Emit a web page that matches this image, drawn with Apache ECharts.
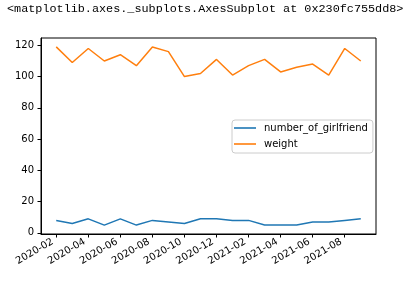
<!DOCTYPE html>
<html>
<head>
<meta charset="utf-8">
<script src="https://cdn.jsdelivr.net/npm/echarts@6/dist/echarts.min.js"></script>
<style>html,body{margin:0;padding:0;background:#fff;}#c{width:414px;height:288px;}</style>
</head>
<body>
<div id="c"></div>
<script>
const months = ['2020-02','2020-03','2020-04','2020-05','2020-06','2020-07','2020-08','2020-09','2020-10','2020-11',
  '2020-12','2021-01','2021-02','2021-03','2021-04','2021-05','2021-06','2021-07','2021-08','2021-09'];
const girlfriends = [8,6,9,5,9,5,8,7,6,9,9,8,8,5,5,5,7,7,8,9];
const weight = [119,109,118,110,114,107,119,116,100,102,111,101,107,111,103,106,108,101,118,110];
const xTickLabels = ['2020-02','2020-04','2020-06','2020-08','2020-10','2020-12','2021-02','2021-04','2021-06','2021-08'];
const yTicks = [0,20,40,60,80,100,120];
const titleText = '<matplotlib.axes._subplots.AxesSubplot at 0x230fc755dd8>';

const xTickIdx = xTickLabels.map(l => months.indexOf(l));
const font = 'DejaVu Sans';
const chart = echarts.init(document.getElementById('c'), null, {renderer: 'canvas'});
chart.setOption({
  animation: false,
  backgroundColor: '#fff',
  title: {
    text: titleText, left: 7, top: 3, padding: 0,
    textStyle: {fontFamily: 'Liberation Mono', fontSize: 11.8, fontWeight: 'normal', color: '#000'}
  },
  grid: {left: 41, right: 38, top: 38, bottom: 54, show: true, borderColor: '#000', borderWidth: 1, backgroundColor: 'transparent'},
  legend: {
    orient: 'vertical', left: 232, top: 120,
    padding: [1, 5, 2, 2], itemGap: 2, itemWidth: 22, itemHeight: 1.6,
    icon: 'rect',
    backgroundColor: '#fff', borderColor: '#cccccc', borderWidth: 1, borderRadius: 3,
    textStyle: {fontFamily: font, fontSize: 10, color: '#000', lineHeight: 14, padding: [0,0,0,3]},
    data: ['number_of_girlfriend', 'weight']
  },
  xAxis: {
    type: 'value', min: -0.95, max: 19.95,
    splitLine: {show: false},
    axisLine: {show: true, onZero: false, lineStyle: {color: '#000', width: 1}},
    axisTick: {show: true, length: 3.5, lineStyle: {color: '#000'}, customValues: xTickIdx},
    axisLabel: {
      customValues: xTickIdx, rotate: 30, margin: 5, padding: [0, 4, 0, 0],
      fontFamily: font, fontSize: 10, color: '#000',
      formatter: v => months[Math.round(v)]
    }
  },
  yAxis: {
    type: 'value', min: -0.7, max: 124.7,
    splitLine: {show: false},
    axisLine: {show: true, onZero: false, lineStyle: {color: '#000', width: 1}},
    axisTick: {show: true, length: 3.5, lineStyle: {color: '#000'}, customValues: yTicks},
    axisLabel: {customValues: yTicks, margin: 7, fontFamily: font, fontSize: 10, color: '#000'}
  },
  series: [
    {name: 'number_of_girlfriend', type: 'line', symbol: 'none', color: '#1f77b4',
     lineStyle: {width: 1.5, color: '#1f77b4'},
     data: girlfriends.map((v, i) => [i, v])},
    {name: 'weight', type: 'line', symbol: 'none', color: '#ff7f0e',
     lineStyle: {width: 1.5, color: '#ff7f0e'},
     data: weight.map((v, i) => [i, v])}
  ]
});
</script>
</body>
</html>
